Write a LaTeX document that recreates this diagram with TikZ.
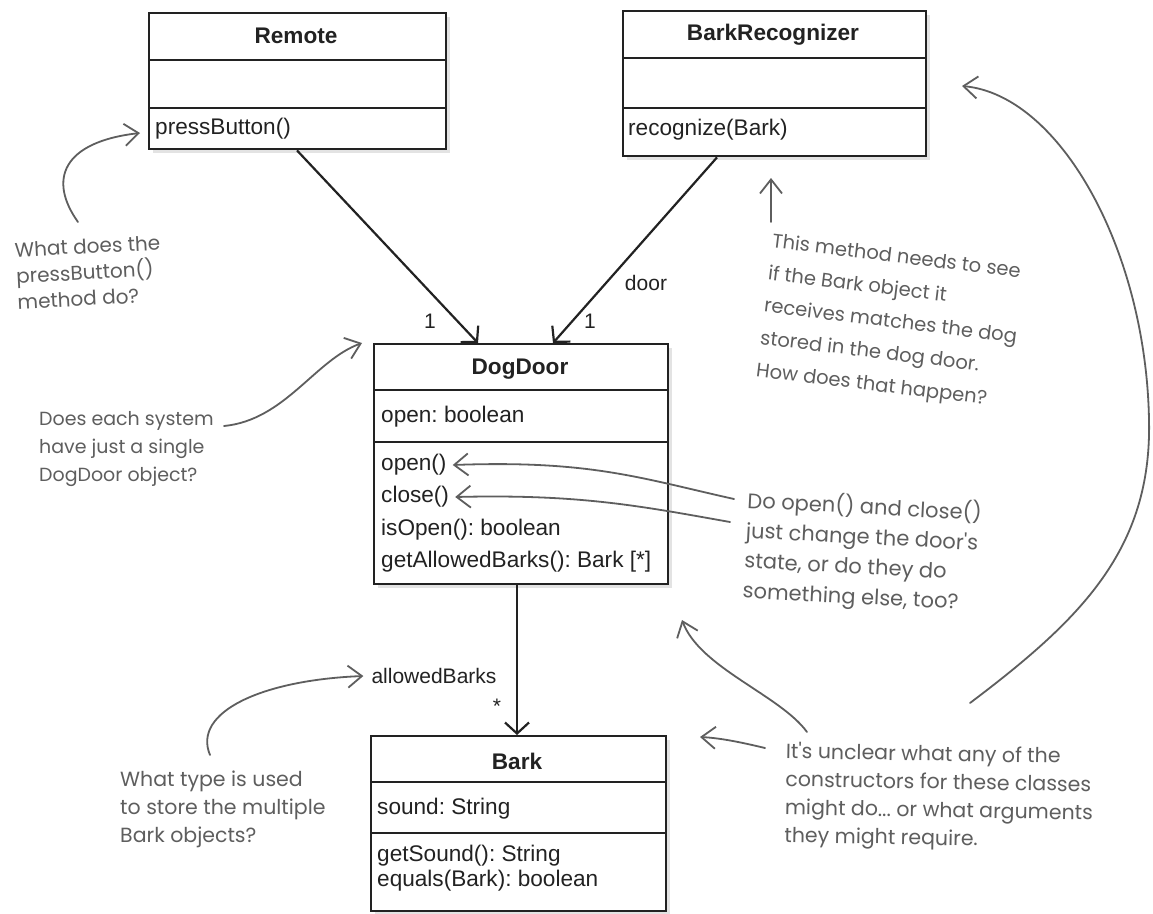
\documentclass[tikz,border=0pt]{standalone}
\usepackage{fontspec}
\setmainfont{Liberation Sans}
\newfontfamily\handfont{Poppins}
\usetikzlibrary{arrows.meta,shadows}
\frenchspacing
\definecolor{ink}{HTML}{222222}
\definecolor{pencil}{HTML}{5E5E5E}
\tikzset{
  umlbox/.style={draw=ink, line width=2.4pt, fill=white, rectangle, inner sep=0pt, anchor=north west,
    drop shadow={opacity=0.22, shadow xshift=4pt, shadow yshift=-4pt}},
  divline/.style={draw=ink, line width=2.2pt},
  ttl/.style={font=\bfseries\fontsize{22.6}{26}\selectfont, text=ink, inner sep=0pt},
  mem/.style={font=\fontsize{22.6}{26}\selectfont, text=ink, anchor=west, inner sep=0pt},
  lbl/.style={font=\fontsize{21}{24}\selectfont, text=ink, inner sep=0pt},
  handnote/.style n args={2}{font=\handfont\fontsize{#1}{#2}\selectfont, text=pencil, anchor=west,
    align=left, inner sep=0pt},
  assoc/.style={draw=ink, line width=2.2pt, -{Straight Barb[length=11pt,width=24pt,line width=2.2pt]}},
  notearrow/.style={draw=pencil, line width=1.8pt, line cap=round, -{Straight Barb[length=14pt,width=22pt,line width=1.8pt]}}
}
\begin{document}
\begin{tikzpicture}[x=1pt,y=-1pt]
\useasboundingbox[fill=white] (0,0) rectangle (1153,913);

% ---------- Remote ----------
\node[umlbox, minimum width=297pt, minimum height=136pt] (remote) at (148,12) {};
\draw[divline] ([yshift=-48pt]remote.north west) -- ([yshift=-48pt]remote.north east);
\draw[divline] ([yshift=-96pt]remote.north west) -- ([yshift=-96pt]remote.north east);
\node[ttl] (remoteT) at (296,36) {Remote};
\node[mem] (remoteM) at (155,129) {pressButton()};

% ---------- BarkRecognizer ----------
\node[umlbox, minimum width=303pt, minimum height=145pt] (barkrec) at (622,10) {};
\draw[divline] ([yshift=-48pt]barkrec.north west) -- ([yshift=-48pt]barkrec.north east);
\draw[divline] ([yshift=-98pt]barkrec.north west) -- ([yshift=-98pt]barkrec.north east);
\node[ttl] (barkrecT) at (773,35) {BarkRecognizer};
\node[mem] (barkrecM) at (628,130) {recognize(Bark)};

% ---------- DogDoor ----------
\node[umlbox, minimum width=294pt, minimum height=240pt] (dogdoor) at (373,343) {};
\draw[divline] ([yshift=-47pt]dogdoor.north west) -- ([yshift=-47pt]dogdoor.north east);
\draw[divline] ([yshift=-99pt]dogdoor.north west) -- ([yshift=-99pt]dogdoor.north east);
\node[ttl] (dogdoorT) at (520,369) {DogDoor};
\node[mem] (ddA) at (381,417) {open: boolean};
\node[mem] (ddM1) at (381,465) {open()};
\node[mem] (ddM2) at (381,497) {close()};
\node[mem] (ddM3) at (381,530) {isOpen(): boolean};
\node[mem] (ddM4) at (381,562) {getAllowedBarks(): Bark [*]};

% ---------- Bark ----------
\node[umlbox, minimum width=295pt, minimum height=175pt] (bark) at (370,735) {};
\draw[divline] ([yshift=-47pt]bark.north west) -- ([yshift=-47pt]bark.north east);
\draw[divline] ([yshift=-98pt]bark.north west) -- ([yshift=-98pt]bark.north east);
\node[ttl] (barkT) at (517,761) {Bark};
\node[mem] (barkA) at (377,809) {sound: String};
\node[mem] (barkM1) at (377,856) {getSound(): String};
\node[mem] (barkM2) at (377,881) {equals(Bark): boolean};

% ---------- associations ----------
\draw[assoc] ([xshift=149pt]remote.south west) -- ([xshift=105pt]dogdoor.north west);
\draw[assoc] ([xshift=95pt]barkrec.south west) -- ([xshift=180pt]dogdoor.north west);
\draw[assoc] ([xshift=144pt]dogdoor.south west) -- ([xshift=144pt]dogdoor.south west |- bark.north);
\node[lbl] (m1) at (430,321) {1};
\node[lbl] (m2) at (590,321) {1};
\node[lbl] (door) at (646,283) {door};
\node[lbl] (allowed) at (434,676) {allowedBarks};
\node[lbl] (star) at (497,706) {*};

% ---------- handwritten notes ----------
\node[handnote={20}{26}, rotate=3] (n1) at (16,276)
  {What does the\\pressButton()\\method do?};
\node[handnote={19.5}{32.5}, rotate=-7] (n2) at (764,307)
  {This method needs to see\\if the Bark object it\\receives matches the dog\\stored in the dog door.\\How does that happen?};
\node[handnote={19}{28}] (n3) at (39,449)
  {Does each system\\have just a single\\DogDoor object?};
\node[handnote={21}{30}, rotate=-3] (n4) at (745,546)
  {Do open() and close()\\just change the door's\\state, or do they do\\something else, too?};
\node[handnote={20.5}{28}, rotate=-1] (n6) at (785,795)
  {It's unclear what any of the\\constructors for these classes\\might do... or what arguments\\they might require.};
\node[handnote={20.5}{28}] (n7) at (120,809)
  {What type is used\\to store the multiple\\Bark objects?};

% ---------- note arrows ----------
\coordinate (p1) at (78,222);
\coordinate (t1) at (140,133);
\draw[notearrow] (p1) .. controls (48,180) and (62,142) .. (t1);

\coordinate (p2) at (771,222);
\coordinate (t2) at (771,178);
\draw[notearrow] (p2) -- (t2);

\coordinate (p3) at (224,426);
\coordinate (t3) at (362,343);
\draw[notearrow] (p3) .. controls (285,420) and (315,360) .. (t3);

\coordinate (p4a) at (734,499);
\coordinate (p4b) at (730,522);
\draw[notearrow] (p4a) .. controls (640,478) and (590,460) .. ([xshift=6pt]ddM1.east);
\draw[notearrow] (p4b) .. controls (640,506) and (580,494) .. ([xshift=6pt]ddM2.east);

\coordinate (p5) at (807,732);
\coordinate (t5) at (682,620);
\draw[notearrow] (p5) .. controls (780,695) and (700,668) .. (t5);

\coordinate (p6) at (765,748);
\coordinate (t6) at (700,737);
\draw[notearrow] (p6) .. controls (740,742) and (720,738) .. (t6);

\coordinate (p7) at (970,703);
\coordinate (k7) at (1149,420);
\coordinate (t7) at (962,86);
\draw[notearrow] (p7) .. controls (1080,620) and (1152,550) .. (k7) .. controls (1146,250) and (1060,95) .. (t7);

\coordinate (p8) at (210,755);
\draw[notearrow] (p8) .. controls (192,712) and (262,680) .. ([xshift=-8pt]allowed.west);
\end{tikzpicture}
\end{document}
